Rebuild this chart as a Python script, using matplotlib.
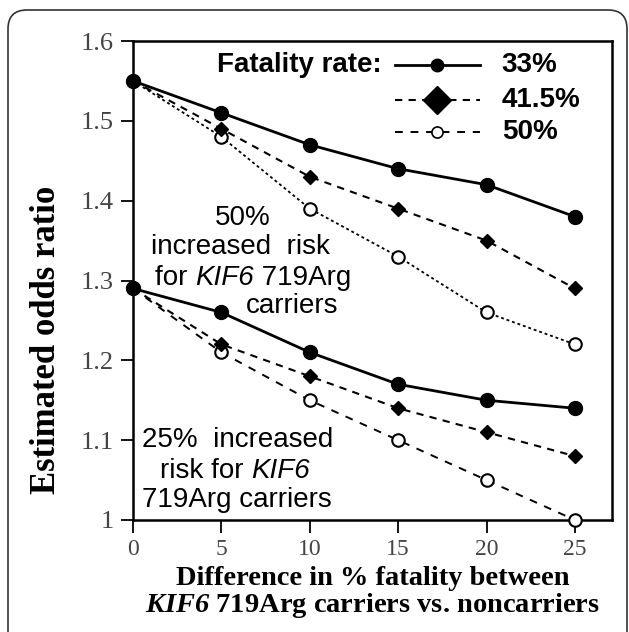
import matplotlib
matplotlib.use("Agg")
import matplotlib.pyplot as plt
from matplotlib.patches import FancyBboxPatch

plt.rcParams["mathtext.fontset"] = "custom"
plt.rcParams["mathtext.bfit"] = "Liberation Serif:bold:italic"

x = [0, 5, 10, 15, 20, 25]
# 50% increased risk group
up_33 = [1.55, 1.51, 1.47, 1.44, 1.42, 1.38]
up_415 = [1.55, 1.49, 1.43, 1.39, 1.35, 1.29]
up_50 = [1.55, 1.48, 1.39, 1.33, 1.26, 1.22]
# 25% increased risk group
lo_33 = [1.29, 1.26, 1.21, 1.17, 1.15, 1.14]
lo_415 = [1.29, 1.22, 1.18, 1.14, 1.11, 1.08]
lo_50 = [1.29, 1.21, 1.15, 1.10, 1.05, 1.00]

xticks = [0, 5, 10, 15, 20, 25]
yticks = [1.0, 1.1, 1.2, 1.3, 1.4, 1.5, 1.6]
ytick_labels = ["1", "1.1", "1.2", "1.3", "1.4", "1.5", "1.6"]
legend_labels = ["33%", "41.5%", "50%"]

fig = plt.figure(figsize=(6.29, 6.32), dpi=100)
border = FancyBboxPatch((8 / 629, -0.05), (627 - 8) / 629, 1 - 10 / 632 + 0.05,
                        boxstyle="round,pad=0,rounding_size=0.03",
                        transform=fig.transFigure, fill=False,
                        edgecolor="#333333", linewidth=1.2, clip_on=False)
fig.patches.append(border)

ax = fig.add_axes([133 / 629, 1 - 520 / 632, (612 - 133) / 629, (520 - 41) / 632])
ax.set_xlim(0, 27.1)
ax.set_ylim(1.0, 1.6)

k = "black"
solid = dict(color=k, lw=2.0, marker="o", ms=10, mfc=k, mec=k, clip_on=False, zorder=4)
dia = dict(color=k, lw=1.5, ls=(0, (3.5, 3)), marker="D", ms=7.5, mfc=k, mec=k, clip_on=False, zorder=3)
dot50 = dict(color=k, lw=1.3, ls=(0, (1.6, 1.6)), marker="o", ms=9, mfc="white", mec=k, mew=1.5, clip_on=False, zorder=3)
dash50 = dict(color=k, lw=1.4, ls=(0, (4, 4)), marker="o", ms=9, mfc="white", mec=k, mew=1.5, clip_on=False, zorder=3)

ax.plot(x, up_50, **dot50)
ax.plot(x, up_415, **dia)
ax.plot(x, up_33, **solid)
ax.plot(x, lo_50, **dash50)
ax.plot(x, lo_415, **dia)
ax.plot(x, lo_33, **solid)

ax.set_xticks(xticks)
ax.set_xticklabels([str(t) for t in xticks])
ax.set_yticks(yticks)
ax.set_yticklabels(ytick_labels)
serif = "Liberation Serif"
for lab in ax.get_xticklabels():
    lab.set_fontfamily(serif)
    lab.set_fontsize(17)
    lab.set_color("#444444")
for lab in ax.get_yticklabels():
    lab.set_fontfamily(serif)
    lab.set_fontsize(19)
    lab.set_color("#444444")
ax.tick_params(direction="out", length=9, width=1.3, pad=5)
for s in ax.spines.values():
    s.set_linewidth(1.8)

ax.set_ylabel("Estimated odds ratio", fontfamily=serif, fontweight="bold", fontsize=25)
ax.yaxis.set_label_coords(-0.146, 0.375)
ax.set_xlabel("Difference in % fatality between\n$\\bfit{KIF6}$ 719Arg carriers vs. noncarriers",
              fontfamily=serif, fontweight="bold", fontsize=20.5, labelpad=4, linespacing=0.98)

# legend (manual)
sans = "Liberation Sans"
ax.text(0.175, 0.950, "Fatality rate:", transform=ax.transAxes, fontfamily=sans,
        fontweight="bold", fontsize=20, va="center", ha="left")
leg_y = [0.950, 0.877, 0.810]
styles = [dict(solid, ms=9), dict(dia, ms=14), dict(dash50, ms=8, mew=1.2)]
for yy, st, lab in zip(leg_y, styles, legend_labels):
    st2 = dict(st)
    st2.pop("clip_on", None)
    ax.plot([0.547, 0.724], [yy, yy], transform=ax.transAxes, **{**st2, "marker": None})
    ax.plot([0.635], [yy], transform=ax.transAxes, **{**st2, "ls": "none"})
    ax.text(0.770, yy, lab, transform=ax.transAxes, fontfamily=sans, fontweight="bold",
            fontsize=20, va="center", ha="left")

# annotations
fs = 20


def chain(x0, y0, parts):
    prev = ax.text(x0, y0, parts[0][0], fontfamily=sans, fontsize=fs, style=parts[0][1],
                   ha="left", va="center")
    for txt, st in parts[1:]:
        prev = ax.annotate(txt, xy=(1, 0.5), xycoords=prev, fontfamily=sans, fontsize=fs,
                           style=st, ha="left", va="center")


ax.text(6.2, 1.378, "50%", fontfamily=sans, fontsize=fs, ha="center", va="center")
ax.text(6.1, 1.342, "increased  risk", fontfamily=sans, fontsize=fs, ha="center", va="center")
chain(1.25, 1.303, [("for ", "normal"), ("KIF6", "italic"), (" 719Arg", "normal")])
ax.text(9.0, 1.268, "carriers", fontfamily=sans, fontsize=fs, ha="center", va="center")
ax.text(5.9, 1.1, "25%  increased", fontfamily=sans, fontsize=fs, ha="center", va="center")
chain(1.5, 1.062, [("risk for ", "normal"), ("KIF6", "italic")])
ax.text(5.9, 1.025, "719Arg carriers", fontfamily=sans, fontsize=fs, ha="center", va="center")

fig.savefig("out.png", dpi=100)
